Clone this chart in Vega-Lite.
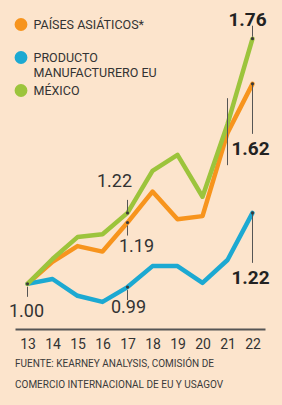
{
  "$schema": "https://vega.github.io/schema/vega-lite/v6.json",
  "width": 250,
  "height": 329,
  "autosize": {"type": "none"},
  "padding": {"left": 15, "top": 0, "right": 17, "bottom": 76},
  "background": "#FCE4CC",
  "config": {
    "view": {"stroke": null},
    "font": "Roboto"
  },
  "title": {
    "text": ["FUENTE: KEARNEY ANALYSIS, COMISIÓN DE", "COMERCIO INTERNACIONAL DE EU Y USAGOV"],
    "orient": "bottom",
    "anchor": "start",
    "frame": "group",
    "offset": 8,
    "fontSize": 10,
    "fontWeight": "normal",
    "color": "#3a3a3a",
    "lineHeight": 21,
    "font": "Roboto"
  },
  "datasets": {
    "pts": [
      {"serie": "PAÍSES ASIÁTICOS*", "anio": 13, "indice": 1.00},
      {"serie": "PAÍSES ASIÁTICOS*", "anio": 14, "indice": 1.068},
      {"serie": "PAÍSES ASIÁTICOS*", "anio": 15, "indice": 1.117},
      {"serie": "PAÍSES ASIÁTICOS*", "anio": 16, "indice": 1.10},
      {"serie": "PAÍSES ASIÁTICOS*", "anio": 17, "indice": 1.19},
      {"serie": "PAÍSES ASIÁTICOS*", "anio": 18, "indice": 1.286},
      {"serie": "PAÍSES ASIÁTICOS*", "anio": 19, "indice": 1.20},
      {"serie": "PAÍSES ASIÁTICOS*", "anio": 20, "indice": 1.21},
      {"serie": "PAÍSES ASIÁTICOS*", "anio": 21, "indice": 1.468},
      {"serie": "PAÍSES ASIÁTICOS*", "anio": 22, "indice": 1.62},
      {"serie": "PRODUCTO MANUFACTURERO EU", "anio": 13, "indice": 1.00},
      {"serie": "PRODUCTO MANUFACTURERO EU", "anio": 14, "indice": 1.015},
      {"serie": "PRODUCTO MANUFACTURERO EU", "anio": 15, "indice": 0.963},
      {"serie": "PRODUCTO MANUFACTURERO EU", "anio": 16, "indice": 0.944},
      {"serie": "PRODUCTO MANUFACTURERO EU", "anio": 17, "indice": 0.99},
      {"serie": "PRODUCTO MANUFACTURERO EU", "anio": 18, "indice": 1.055},
      {"serie": "PRODUCTO MANUFACTURERO EU", "anio": 19, "indice": 1.055},
      {"serie": "PRODUCTO MANUFACTURERO EU", "anio": 20, "indice": 1.003},
      {"serie": "PRODUCTO MANUFACTURERO EU", "anio": 21, "indice": 1.074},
      {"serie": "PRODUCTO MANUFACTURERO EU", "anio": 22, "indice": 1.22},
      {"serie": "MÉXICO", "anio": 13, "indice": 1.00},
      {"serie": "MÉXICO", "anio": 14, "indice": 1.077},
      {"serie": "MÉXICO", "anio": 15, "indice": 1.145},
      {"serie": "MÉXICO", "anio": 16, "indice": 1.154},
      {"serie": "MÉXICO", "anio": 17, "indice": 1.22},
      {"serie": "MÉXICO", "anio": 18, "indice": 1.35},
      {"serie": "MÉXICO", "anio": 19, "indice": 1.40},
      {"serie": "MÉXICO", "anio": 20, "indice": 1.27},
      {"serie": "MÉXICO", "anio": 21, "indice": 1.495},
      {"serie": "MÉXICO", "anio": 22, "indice": 1.76}
    ],
    "ann": [
      {"serie": "PAÍSES ASIÁTICOS*", "anio": 13, "indice": 1.00, "etiqueta": "1.00"},
      {"serie": "PRODUCTO MANUFACTURERO EU", "anio": 17, "indice": 0.99, "etiqueta": "0.99"},
      {"serie": "PAÍSES ASIÁTICOS*", "anio": 17, "indice": 1.19, "etiqueta": "1.19"},
      {"serie": "MÉXICO", "anio": 17, "indice": 1.22, "etiqueta": "1.22"},
      {"serie": "MÉXICO", "anio": 22, "indice": 1.76, "etiqueta": "1.76"},
      {"serie": "PAÍSES ASIÁTICOS*", "anio": 22, "indice": 1.62, "etiqueta": "1.62"},
      {"serie": "PRODUCTO MANUFACTURERO EU", "anio": 22, "indice": 1.22, "etiqueta": "1.22"}
    ]
  },
  "encoding": {
    "x": {
      "field": "anio", "type": "quantitative",
      "scale": {"domain": [12.5, 22.5], "nice": false, "zero": false},
      "axis": {
        "values": [13, 14, 15, 16, 17, 18, 19, 20, 21, 22],
        "title": null, "grid": false, "ticks": false,
        "domainColor": "#555555", "domainWidth": 2,
        "labelFontSize": 14, "labelColor": "#333333", "labelPadding": 8,
        "labelFont": "Roboto"
      }
    },
    "y": {
      "field": "indice", "type": "quantitative",
      "scale": {"domain": [0.86, 1.88], "nice": false, "zero": false},
      "axis": null
    }
  },
  "layer": [
    {
      "data": {"name": "pts"},
      "mark": {"type": "line", "strokeWidth": 4.5, "strokeJoin": "round", "strokeCap": "round"},
      "encoding": {
        "color": {
          "field": "serie", "type": "nominal",
          "scale": {
            "domain": ["PAÍSES ASIÁTICOS*", "PRODUCTO MANUFACTURERO EU", "MÉXICO"],
            "range": ["#F7941D", "#1CA9D2", "#9CC43C"]
          },
          "legend": {
            "title": null,
            "orient": "none",
            "legendX": -0.5,
            "legendY": 18,
            "padding": 0,
            "symbolType": "circle",
            "symbolSize": 40,
            "symbolStrokeWidth": 6.5,
            "symbolOpacity": 1,
            "labelFontSize": 12.5,
            "labelColor": "#333333",
            "labelOffset": 6,
            "labelBaseline": "top",
            "rowPadding": -6,
            "labelFont": "Roboto",
            "labelExpr": "datum.label == 'PRODUCTO MANUFACTURERO EU' ? ['PRODUCTO', 'MANUFACTURERO EU'] : [datum.label, '']",
            "encoding": {
              "labels": {"lineHeight": {"value": 15}, "dy": {"value": -5.4}}
            }
          }
        },
        "order": {"field": "anio", "type": "quantitative"}
      }
    },
    {
      "data": {"name": "pts"},
      "transform": [{"filter": "datum.serie == 'MÉXICO' && datum.anio == 21"}],
      "mark": {"type": "rule", "color": "#555555", "strokeWidth": 1, "yOffset": -26, "y2Offset": 41},
      "encoding": {"y2": {"field": "indice"}}
    },
    {
      "data": {"name": "ann"},
      "transform": [{"filter": "datum.etiqueta == '1.00' || datum.etiqueta == '0.99' || datum.etiqueta == '1.19'"}],
      "mark": {"type": "rule", "color": "#555555", "strokeWidth": 1, "yOffset": 3, "y2Offset": 13},
      "encoding": {"y2": {"field": "indice"}}
    },
    {
      "data": {"name": "ann"},
      "transform": [{"filter": "(datum.etiqueta == '1.22' && datum.anio == 17) || datum.etiqueta == '1.76'"}],
      "mark": {"type": "rule", "color": "#555555", "strokeWidth": 1, "yOffset": -13, "y2Offset": -2},
      "encoding": {"y2": {"field": "indice"}}
    },
    {
      "data": {"name": "ann"},
      "transform": [{"filter": "datum.anio == 22 && datum.etiqueta != '1.76'"}],
      "mark": {"type": "rule", "color": "#555555", "strokeWidth": 1, "yOffset": 0, "y2Offset": 50},
      "encoding": {"y2": {"field": "indice"}}
    },
    {
      "data": {"name": "ann"},
      "mark": {"type": "circle", "color": "#3a3a3a", "size": 10, "opacity": 1}
    },
    {
      "data": {"name": "ann"},
      "transform": [{"filter": "datum.etiqueta == '1.00'"}],
      "mark": {"type": "text", "fontSize": 18, "color": "#333333", "dx": -1, "dy": 28, "baseline": "middle"},
      "encoding": {"text": {"field": "etiqueta"}}
    },
    {
      "data": {"name": "ann"},
      "transform": [{"filter": "datum.etiqueta == '0.99'"}],
      "mark": {"type": "text", "fontSize": 18, "color": "#333333", "dx": 1, "dy": 21, "baseline": "middle"},
      "encoding": {"text": {"field": "etiqueta"}}
    },
    {
      "data": {"name": "ann"},
      "transform": [{"filter": "datum.etiqueta == '1.19'"}],
      "mark": {"type": "text", "fontSize": 18, "color": "#333333", "dx": 9, "dy": 24, "baseline": "middle"},
      "encoding": {"text": {"field": "etiqueta"}}
    },
    {
      "data": {"name": "ann"},
      "transform": [{"filter": "datum.etiqueta == '1.22' && datum.anio == 17"}],
      "mark": {"type": "text", "fontSize": 18, "color": "#333333", "dx": -13, "dy": -31, "baseline": "middle"},
      "encoding": {"text": {"field": "etiqueta"}}
    },
    {
      "data": {"name": "ann"},
      "transform": [{"filter": "datum.etiqueta == '1.76'"}],
      "mark": {"type": "text", "fontSize": 19, "fontWeight": "bold", "color": "#222222", "dx": -5, "dy": -19, "baseline": "middle"},
      "encoding": {"text": {"field": "etiqueta"}}
    },
    {
      "data": {"name": "ann"},
      "transform": [{"filter": "datum.anio == 22 && datum.etiqueta != '1.76'"}],
      "mark": {"type": "text", "fontSize": 19, "fontWeight": "bold", "color": "#222222", "dx": -2, "dy": 65, "baseline": "middle"},
      "encoding": {"text": {"field": "etiqueta"}}
    }
  ]
}
